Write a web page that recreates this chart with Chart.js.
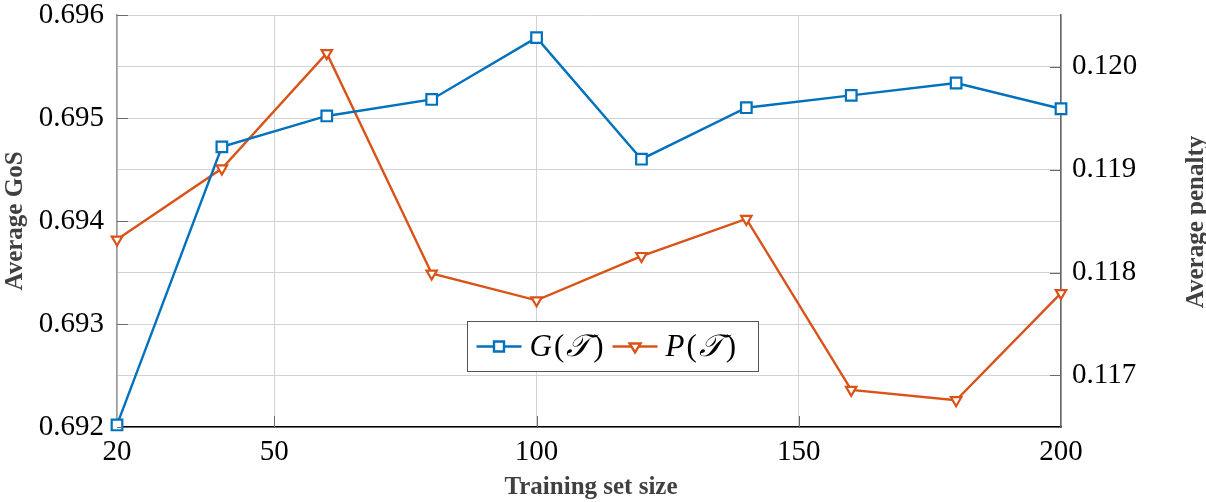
<!DOCTYPE html>
<html><head><meta charset="utf-8">
<script src="https://cdn.jsdelivr.net/npm/chart.js@4.4.1/dist/chart.umd.min.js"></script>
<style>html,body{margin:0;padding:0;background:#fff}#wrap{width:1206px;height:502px;position:relative}</style>
</head><body><div id="wrap"><canvas id="c" width="1206" height="502"></canvas></div>
<script>
const trainingSizes = [20, 40, 60, 80, 100, 120, 140, 160, 180, 200];
const gosValues = [0.69202, 0.69472, 0.69502, 0.69518, 0.69578, 0.69460, 0.69510, 0.69522, 0.69534, 0.69509];
const penaltyValues = [0.11832, 0.11901, 0.12013, 0.11799, 0.11773, 0.11816, 0.11852, 0.11686, 0.11676, 0.11780];
const xTicks = [20, 50, 100, 150, 200];
const gosTicks = [0.692, 0.693, 0.694, 0.695, 0.696];
const penaltyTicks = [0.117, 0.118, 0.119, 0.120];
const gosLabel = 'G';
const penaltyLabel = 'P';
const scriptT = '\u{1D4AF}';

const BLUE = '#0072BD', ORANGE = '#D95319';
const SERIF = '"Liberation Serif", "Times New Roman", serif';

// grid rows include midpoints between major ticks
const gosGrid = [];
gosTicks.forEach((v, i) => { gosGrid.push(v); if (i < gosTicks.length - 1) gosGrid.push((v + gosTicks[i + 1]) / 2); });

const overlay = {
  id: 'overlay',
  afterDraw(chart) {
    const ctx = chart.ctx, a = chart.chartArea;
    const xs = chart.scales.x, yl = chart.scales.y, yr = chart.scales.y1;
    ctx.save();
    // inner tick marks
    ctx.strokeStyle = '#6a6a6a'; ctx.lineWidth = 1;
    gosTicks.forEach(v => { const y = Math.round(yl.getPixelForValue(v)) + 0.5; ctx.beginPath(); ctx.moveTo(a.left, y); ctx.lineTo(a.left + 11, y); ctx.stroke(); });
    penaltyTicks.forEach(v => { const y = Math.round(yr.getPixelForValue(v)) + 0.5; ctx.beginPath(); ctx.moveTo(a.right - 11, y); ctx.lineTo(a.right, y); ctx.stroke(); });
    xTicks.slice(1, -1).forEach(v => { const x = Math.round(xs.getPixelForValue(v)) + 0.5; ctx.beginPath(); ctx.moveTo(x, a.bottom - 11); ctx.lineTo(x, a.bottom); ctx.stroke(); });

    // axis titles
    ctx.fillStyle = '#404040';
    ctx.font = 'bold 25px ' + SERIF;
    ctx.textAlign = 'center'; ctx.textBaseline = 'middle';
    ctx.fillText('Training set size', (a.left + a.right) / 2 + 2, 488);
    ctx.save(); ctx.translate(16, 221); ctx.rotate(-Math.PI / 2); ctx.fillText('Average GoS', 0, 0); ctx.restore();
    ctx.save(); ctx.translate(1197, 222); ctx.rotate(-Math.PI / 2); ctx.fillText('Average penalty', 0, 0); ctx.restore();

    // legend
    const bx = 467.5, by = 321.5, bw = 291, bh = 50, cy = by + bh / 2;
    ctx.fillStyle = '#fff'; ctx.fillRect(bx, by, bw, bh);
    ctx.strokeStyle = '#555'; ctx.lineWidth = 1; ctx.strokeRect(bx, by, bw, bh);
    const items = chart.data.datasets.map(d => ({ label: d.label, color: d.borderColor, style: d.pointStyle }));
    let x = bx + 9;
    items.forEach(it => {
      ctx.strokeStyle = it.color; ctx.lineWidth = 2.4;
      ctx.beginPath(); ctx.moveTo(x, cy); ctx.lineTo(x + 45, cy); ctx.stroke();
      const mx = x + 22.5;
      ctx.fillStyle = '#fff';
      ctx.beginPath();
      if (it.style === 'rect') { ctx.rect(mx - 5, cy - 5, 10, 10); }
      else { ctx.moveTo(mx - 5.5, cy - 3); ctx.lineTo(mx + 5.5, cy - 3); ctx.lineTo(mx, cy + 6); ctx.closePath(); }
      ctx.fill(); ctx.stroke();
      x += 53;
      ctx.fillStyle = '#000'; ctx.textAlign = 'left'; ctx.textBaseline = 'middle';
      ctx.font = 'italic 31px ' + SERIF; ctx.fillText(it.label, x, cy + 1); x += ctx.measureText(it.label).width + 2;
      ctx.font = '31px ' + SERIF; ctx.fillText('(', x, cy + 1); x += ctx.measureText('(').width + 2;
      ctx.font = 'italic 31px ' + SERIF; ctx.fillText(scriptT, x, cy + 1); x += ctx.measureText(scriptT).width + 3;
      ctx.font = '31px ' + SERIF; ctx.fillText(')', x, cy + 1); x += ctx.measureText(')').width + 9;
    });
    ctx.restore();
  }
};

new Chart(document.getElementById('c'), {
  type: 'line',
  data: {
    datasets: [
      { label: gosLabel, data: trainingSizes.map((s, i) => ({ x: s, y: gosValues[i] })), yAxisID: 'y',
        borderColor: BLUE, backgroundColor: '#fff', borderWidth: 2.4, pointStyle: 'rect', pointRadius: 7.5,
        pointBorderWidth: 2.2, pointBackgroundColor: '#fff', pointBorderColor: BLUE, tension: 0, clip: false },
      { label: penaltyLabel, data: trainingSizes.map((s, i) => ({ x: s, y: penaltyValues[i] })), yAxisID: 'y1',
        borderColor: ORANGE, backgroundColor: '#fff', borderWidth: 2.4, pointStyle: 'triangle', pointRotation: 180, pointRadius: 6,
        pointBorderWidth: 2.2, pointBackgroundColor: '#fff', pointBorderColor: ORANGE, tension: 0, clip: false }
    ]
  },
  options: {
    responsive: false, animation: false, devicePixelRatio: 1,
    layout: { padding: { top: 15, left: 0, right: 0, bottom: 0 } },
    plugins: { legend: { display: false }, tooltip: { enabled: false } },
    scales: {
      x: {
        type: 'linear', min: 20, max: 200,
        afterBuildTicks: ax => { ax.ticks = xTicks.map(v => ({ value: v })); },
        afterFit: ax => { ax.height = 75; ax.paddingLeft = 0; ax.paddingRight = 0; },
        grid: { color: '#d2d2d2', drawTicks: false, lineWidth: 1 },
        border: { display: true, color: '#000', width: 1.5 },
        ticks: { color: '#000', font: { family: SERIF, size: 29 }, padding: 8, maxRotation: 0, autoSkip: false }
      },
      y: {
        type: 'linear', position: 'left', min: 0.692, max: 0.696,
        afterBuildTicks: ax => { ax.ticks = gosGrid.map(v => ({ value: v })); },
        afterFit: ax => { ax.width = 117; ax.paddingTop = 0; ax.paddingBottom = 0; },
        grid: { color: '#d2d2d2', drawTicks: false, lineWidth: 1 },
        border: { display: true, color: '#9a9a9a', width: 1.5 },
        ticks: { color: '#000', font: { family: SERIF, size: 29 }, padding: 13, autoSkip: false,
          callback: v => gosTicks.some(t => Math.abs(t - v) < 1e-9) ? v.toFixed(3) : '' }
      },
      y1: {
        type: 'linear', position: 'right', min: 0.1165, max: 0.1205,
        afterBuildTicks: ax => { ax.ticks = penaltyTicks.map(v => ({ value: v })); },
        afterFit: ax => { ax.width = 145; ax.paddingTop = 0; ax.paddingBottom = 0; },
        grid: { drawOnChartArea: false, drawTicks: false },
        border: { display: true, color: '#666', width: 1.5 },
        ticks: { color: '#000', font: { family: SERIF, size: 29 }, padding: 11, autoSkip: false,
          callback: v => v.toFixed(3) }
      }
    }
  },
  plugins: [overlay]
});
</script>
</body></html>
